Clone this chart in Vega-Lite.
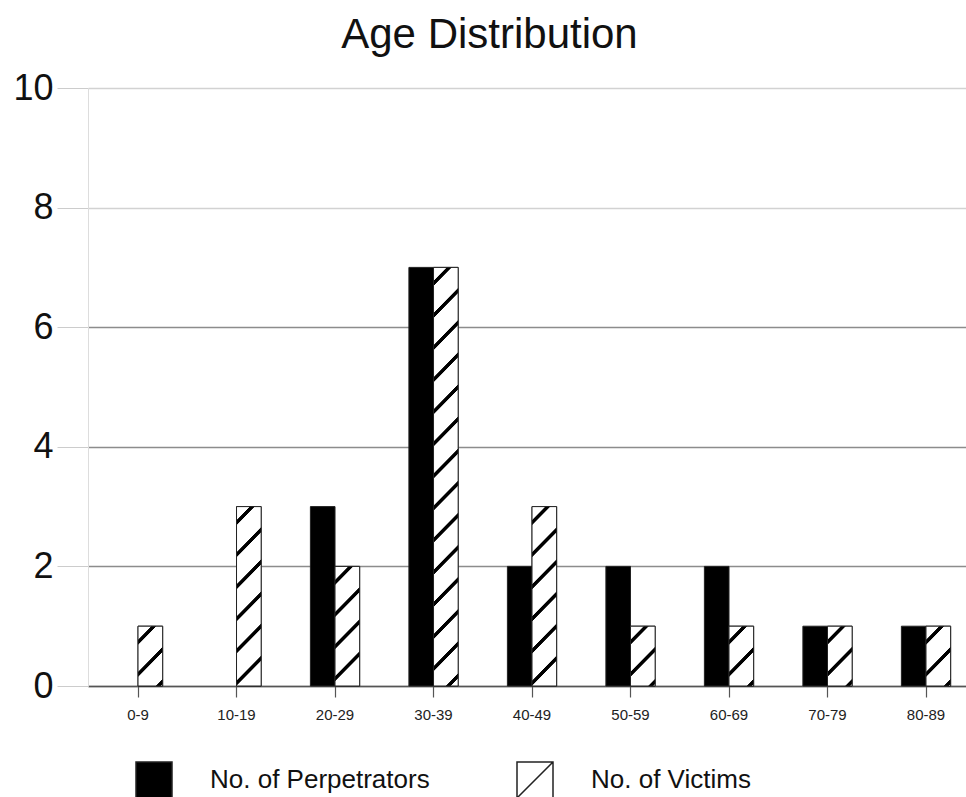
{
  "$schema": "https://vega.github.io/schema/vega-lite/v6.json",
  "width": 878,
  "height": 598,
  "autosize": {"type": "none"},
  "padding": {"left": 88, "top": 88, "right": 0, "bottom": 111},
  "background": "white",
  "title": {"text": "Age Distribution", "font": "Liberation Sans", "fontSize": 42, "fontWeight": "normal", "color": "#111111", "anchor": "middle", "frame": "bounds", "offset": 13},
  "config": {
    "view": {"stroke": null},
    "font": "Liberation Sans"
  },
  "data": {
    "values": [
      {"age": "0-9", "series": "No. of Perpetrators", "count": 0},
      {"age": "0-9", "series": "No. of Victims", "count": 1},
      {"age": "10-19", "series": "No. of Perpetrators", "count": 0},
      {"age": "10-19", "series": "No. of Victims", "count": 3},
      {"age": "20-29", "series": "No. of Perpetrators", "count": 3},
      {"age": "20-29", "series": "No. of Victims", "count": 2},
      {"age": "30-39", "series": "No. of Perpetrators", "count": 7},
      {"age": "30-39", "series": "No. of Victims", "count": 7},
      {"age": "40-49", "series": "No. of Perpetrators", "count": 2},
      {"age": "40-49", "series": "No. of Victims", "count": 3},
      {"age": "50-59", "series": "No. of Perpetrators", "count": 2},
      {"age": "50-59", "series": "No. of Victims", "count": 1},
      {"age": "60-69", "series": "No. of Perpetrators", "count": 2},
      {"age": "60-69", "series": "No. of Victims", "count": 1},
      {"age": "70-79", "series": "No. of Perpetrators", "count": 1},
      {"age": "70-79", "series": "No. of Victims", "count": 1},
      {"age": "80-89", "series": "No. of Perpetrators", "count": 1},
      {"age": "80-89", "series": "No. of Victims", "count": 1}
    ]
  },
  "encoding": {
    "x": {
      "field": "age", "type": "nominal",
      "sort": ["0-9", "10-19", "20-29", "30-39", "40-49", "50-59", "60-69", "70-79", "80-89"],
      "scale": {"paddingInner": 0.5, "paddingOuter": 0.207, "align": 0.623},
      "axis": {
        "title": null, "labelAngle": 0, "labelFontSize": 15, "labelColor": "#222222",
        "labelPadding": 10, "tickSize": 11, "tickColor": "#555555", "tickWidth": 1.2,
        "domainColor": "#555555", "domainWidth": 1.5, "grid": false
      }
    },
    "xOffset": {"field": "series", "type": "nominal", "sort": ["No. of Perpetrators", "No. of Victims"], "scale": {"paddingInner": 0, "paddingOuter": 0}},
    "y": {
      "field": "count", "type": "quantitative",
      "scale": {"domain": [0, 10], "nice": false},
      "axis": {
        "title": null, "values": [0, 2, 4, 6, 8, 10], "labelFontSize": 36, "labelColor": "#111111",
        "labelPadding": 4, "tickSize": 31, "tickColor": "#cccccc", "tickWidth": 1,
        "domainColor": "#dddddd", "domainWidth": 1,
        "grid": true, "gridWidth": 1.6,
        "gridColor": {"condition": {"test": "datum.value <= 6", "value": "#8c8c8c"}, "value": "#d2d2d2"}
      }
    }
  },
  "layer": [
    {
      "transform": [{"filter": "datum.count > 0"}],
      "mark": {"type": "bar", "stroke": "#222222", "strokeWidth": 1},
      "encoding": {
        "color": {
          "field": "series", "type": "nominal",
          "scale": {"domain": ["No. of Perpetrators", "No. of Victims"], "range": ["#000000", "#ffffff"]},
          "legend": {
            "title": null, "orient": "none", "legendX": 47, "legendY": 673, "direction": "horizontal",
            "padding": 0, "symbolType": "square", "symbolSize": 1296, "symbolStrokeColor": "#222222",
            "symbolStrokeWidth": 1.5, "symbolOpacity": 1, "labelFontSize": 26, "labelColor": "#111111",
            "labelOffset": 37, "columnPadding": 84, "labelLimit": 400,
            "encode": {"symbols": {"update": {"shape": {"signal": "datum.value === 'No. of Victims' ? 'M-1,-1H1V1H-1ZM-1,1L1,-1' : 'square'"}}}}
          }
        }
      }
    },
    {
      "transform": [{"filter": "datum.series === 'No. of Victims' && datum.count === 7"}],
      "mark": {
        "type": "bar", "stroke": "#222222", "strokeWidth": 1,
        "fill": {"gradient": "linear", "x1": 0, "y1": 0, "x2": 0.0633, "y2": 1.0562, "stops": [
          {"offset": 0, "color": "#ffffff"},
          {"offset": 0.0294, "color": "#ffffff"}, {"offset": 0.0317, "color": "#000000"}, {"offset": 0.0407, "color": "#000000"}, {"offset": 0.0430, "color": "#ffffff"},
          {"offset": 0.1018, "color": "#ffffff"}, {"offset": 0.1040, "color": "#000000"}, {"offset": 0.1131, "color": "#000000"}, {"offset": 0.1153, "color": "#ffffff"},
          {"offset": 0.1741, "color": "#ffffff"}, {"offset": 0.1764, "color": "#000000"}, {"offset": 0.1854, "color": "#000000"}, {"offset": 0.1877, "color": "#ffffff"},
          {"offset": 0.2465, "color": "#ffffff"}, {"offset": 0.2488, "color": "#000000"}, {"offset": 0.2578, "color": "#000000"}, {"offset": 0.2601, "color": "#ffffff"},
          {"offset": 0.3189, "color": "#ffffff"}, {"offset": 0.3211, "color": "#000000"}, {"offset": 0.3302, "color": "#000000"}, {"offset": 0.3324, "color": "#ffffff"},
          {"offset": 0.3912, "color": "#ffffff"}, {"offset": 0.3935, "color": "#000000"}, {"offset": 0.4025, "color": "#000000"}, {"offset": 0.4048, "color": "#ffffff"},
          {"offset": 0.4636, "color": "#ffffff"}, {"offset": 0.4658, "color": "#000000"}, {"offset": 0.4749, "color": "#000000"}, {"offset": 0.4772, "color": "#ffffff"},
          {"offset": 0.5360, "color": "#ffffff"}, {"offset": 0.5382, "color": "#000000"}, {"offset": 0.5473, "color": "#000000"}, {"offset": 0.5495, "color": "#ffffff"},
          {"offset": 0.6083, "color": "#ffffff"}, {"offset": 0.6106, "color": "#000000"}, {"offset": 0.6196, "color": "#000000"}, {"offset": 0.6219, "color": "#ffffff"},
          {"offset": 0.6807, "color": "#ffffff"}, {"offset": 0.6829, "color": "#000000"}, {"offset": 0.6920, "color": "#000000"}, {"offset": 0.6942, "color": "#ffffff"},
          {"offset": 0.7530, "color": "#ffffff"}, {"offset": 0.7553, "color": "#000000"}, {"offset": 0.7644, "color": "#000000"}, {"offset": 0.7666, "color": "#ffffff"},
          {"offset": 0.8254, "color": "#ffffff"}, {"offset": 0.8277, "color": "#000000"}, {"offset": 0.8367, "color": "#000000"}, {"offset": 0.8390, "color": "#ffffff"},
          {"offset": 0.8978, "color": "#ffffff"}, {"offset": 0.9000, "color": "#000000"}, {"offset": 0.9091, "color": "#000000"}, {"offset": 0.9113, "color": "#ffffff"},
          {"offset": 0.9701, "color": "#ffffff"}, {"offset": 0.9724, "color": "#000000"}, {"offset": 0.9814, "color": "#000000"}, {"offset": 0.9837, "color": "#ffffff"},
          {"offset": 1, "color": "#ffffff"}
        ]}
      },
      "encoding": {}
    },
    {
      "transform": [{"filter": "datum.series === 'No. of Victims' && datum.count === 3"}],
      "mark": {
        "type": "bar", "stroke": "#222222", "strokeWidth": 1,
        "fill": {"gradient": "linear", "x1": 0, "y1": 0, "x2": 0.1563, "y2": 1.1180, "stops": [
          {"offset": 0, "color": "#ffffff"},
          {"offset": 0.0638, "color": "#ffffff"}, {"offset": 0.0687, "color": "#000000"}, {"offset": 0.0883, "color": "#000000"}, {"offset": 0.0932, "color": "#ffffff"},
          {"offset": 0.2208, "color": "#ffffff"}, {"offset": 0.2257, "color": "#000000"}, {"offset": 0.2453, "color": "#000000"}, {"offset": 0.2502, "color": "#ffffff"},
          {"offset": 0.3778, "color": "#ffffff"}, {"offset": 0.3827, "color": "#000000"}, {"offset": 0.4024, "color": "#000000"}, {"offset": 0.4073, "color": "#ffffff"},
          {"offset": 0.5348, "color": "#ffffff"}, {"offset": 0.5397, "color": "#000000"}, {"offset": 0.5594, "color": "#000000"}, {"offset": 0.5643, "color": "#ffffff"},
          {"offset": 0.6919, "color": "#ffffff"}, {"offset": 0.6968, "color": "#000000"}, {"offset": 0.7164, "color": "#000000"}, {"offset": 0.7213, "color": "#ffffff"},
          {"offset": 0.8489, "color": "#ffffff"}, {"offset": 0.8538, "color": "#000000"}, {"offset": 0.8734, "color": "#000000"}, {"offset": 0.8783, "color": "#ffffff"},
          {"offset": 1, "color": "#ffffff"}
        ]}
      },
      "encoding": {}
    },
    {
      "transform": [{"filter": "datum.series === 'No. of Victims' && datum.count === 2"}],
      "mark": {
        "type": "bar", "stroke": "#222222", "strokeWidth": 1,
        "fill": {"gradient": "linear", "x1": 0, "y1": 0, "x2": 0.2430, "y2": 1.1588, "stops": [
          {"offset": 0, "color": "#ffffff"},
          {"offset": 0.0902, "color": "#ffffff"}, {"offset": 0.0971, "color": "#000000"}, {"offset": 0.1248, "color": "#000000"}, {"offset": 0.1318, "color": "#ffffff"},
          {"offset": 0.3121, "color": "#ffffff"}, {"offset": 0.3190, "color": "#000000"}, {"offset": 0.3467, "color": "#000000"}, {"offset": 0.3537, "color": "#ffffff"},
          {"offset": 0.5340, "color": "#ffffff"}, {"offset": 0.5409, "color": "#000000"}, {"offset": 0.5687, "color": "#000000"}, {"offset": 0.5756, "color": "#ffffff"},
          {"offset": 0.7559, "color": "#ffffff"}, {"offset": 0.7628, "color": "#000000"}, {"offset": 0.7906, "color": "#000000"}, {"offset": 0.7975, "color": "#ffffff"},
          {"offset": 1, "color": "#ffffff"}
        ]}
      },
      "encoding": {}
    },
    {
      "transform": [{"filter": "datum.series === 'No. of Victims' && datum.count === 1"}],
      "mark": {
        "type": "bar", "stroke": "#222222", "strokeWidth": 1,
        "fill": {"gradient": "linear", "x1": 0, "y1": 0, "x2": 0.5063, "y2": 1.2071, "stops": [
          {"offset": 0, "color": "#ffffff"},
          {"offset": 0.1537, "color": "#ffffff"}, {"offset": 0.1655, "color": "#000000"}, {"offset": 0.2128, "color": "#000000"}, {"offset": 0.2246, "color": "#ffffff"},
          {"offset": 0.5319, "color": "#ffffff"}, {"offset": 0.5437, "color": "#000000"}, {"offset": 0.5910, "color": "#000000"}, {"offset": 0.6028, "color": "#ffffff"},
          {"offset": 0.9101, "color": "#ffffff"}, {"offset": 0.9220, "color": "#000000"}, {"offset": 0.9692, "color": "#000000"}, {"offset": 0.9811, "color": "#ffffff"},
          {"offset": 1, "color": "#ffffff"}
        ]}
      },
      "encoding": {}
    }
  ]
}
